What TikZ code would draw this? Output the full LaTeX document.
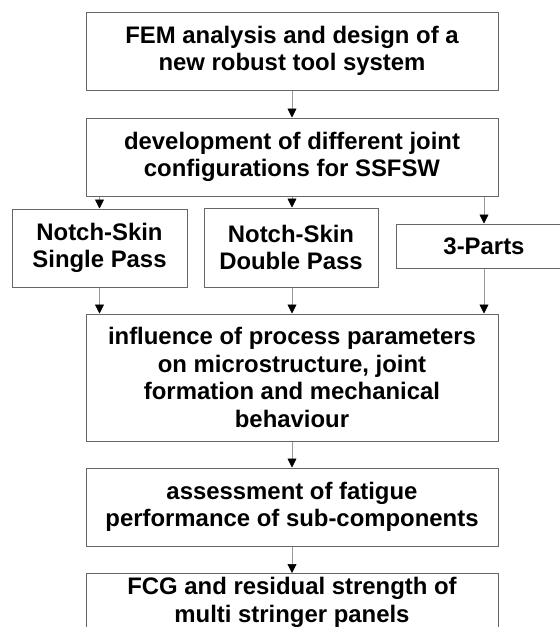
\documentclass[tikz,border=0pt]{standalone}
\usepackage{fontspec}
\setmainfont{Liberation Sans}
\usetikzlibrary{arrows.meta}
\begin{document}
\begin{tikzpicture}[x=1pt,y=-1pt,
  box/.style={draw=black!60,line width=1pt,inner sep=0pt,align=center,
    font=\fontsize{23.9}{27.5}\selectfont\bfseries},
  conn/.style={draw=black!40,line width=0.7pt,-{Triangle[length=9pt,width=9pt,color=black]}}]
\clip (0,0) rectangle (560,627);
\fill[white] (0,0) rectangle (560,627);
% boxes
\node[box,minimum width=412pt,minimum height=78pt] (fem) at (292,51) {FEM analysis and design of a\\new robust tool system};
\node[box,minimum width=412pt,minimum height=78pt] (dev) at (292,157) {development of different joint\\configurations for SSFSW};
\node[box,minimum width=175pt,minimum height=78pt] (single) at (99.5,248) {Notch-Skin\\Single Pass};
\node[box,minimum width=174pt,minimum height=79pt] (double) at (291,247.5) {Notch-Skin\\Double Pass};
\node[box,minimum width=176pt,minimum height=44pt] (three) at (484,246) {3-Parts};
\node[box,minimum width=412pt,minimum height=127pt] (infl) at (292,377.5) {influence of process parameters\\on microstructure, joint\\formation and mechanical\\behaviour};
\node[box,minimum width=412pt,minimum height=78pt] (fat) at (292,507) {assessment of fatigue\\performance of sub-components};
\node[box,minimum width=412pt,minimum height=128pt,anchor=north] (fcg) at (292,573) {};
\node[font=\fontsize{23.9}{28}\selectfont\bfseries,align=center,inner sep=0pt] (fcgtxt) at (292,602) {FCG and residual strength of\\multi stringer panels};
% connectors
\draw[conn] (fem.south) -- (dev.north);
\draw[conn] (dev.south -| single.north) -- (single.north);
\draw[conn] (dev.south) -- (double.north -| dev.south);
\draw[conn] (dev.south -| three.north) -- (three.north);
\draw[conn] (single.south) -- (infl.north -| single.south);
\draw[conn] (double.south -| infl.north) -- (infl.north);
\draw[conn] (three.south) -- (infl.north -| three.south);
\draw[conn] (infl.south) -- (fat.north);
\draw[conn] (fat.south) -- (fcg.north);
\end{tikzpicture}
\end{document}
